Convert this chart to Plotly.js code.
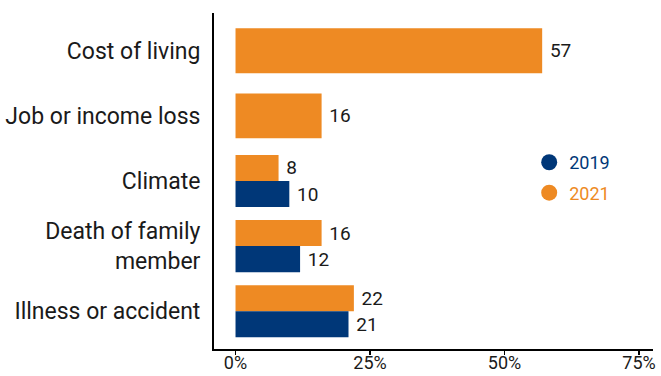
<!DOCTYPE html>
<html>
<head>
<meta charset="utf-8">
<script src="https://cdn.plot.ly/plotly-3.0.1.min.js"></script>
<style>html,body{margin:0;padding:0;background:#fff;}#chart{width:661px;height:376px;}</style>
</head>
<body>
<div id="chart"></div>
<script>
const categories = ['Cost of living', 'Job or income loss', 'Climate', 'Death of family<br>member', 'Illness or accident'];
const values2019 = [null, null, 10, 12, 21];
const values2021 = [57, 16, 8, 16, 22];
const xTickValues = [0, 25, 50, 75];
const xTickLabels = ['0%', '25%', '50%', '75%'];

const ORANGE = '#ee8a23';
const NAVY = '#003778';
const FONT = 'Roboto, "Open Sans", sans-serif';

// bar geometry: rows with only 2021 get a single thick bar, paired rows share the band
const single = values2019.map(v => v === null);
const w2021 = single.map(s => s ? 0.69 : 0.4);
const o2021 = single.map(s => s ? -0.345 : -0.4);
const w2019 = single.map(() => 0.4);
const o2019 = single.map(() => 0);

const barText = {family: FONT, size: 19, color: '#1a1a1a'};

const traces = [
  {
    type: 'bar', orientation: 'h', y: categories, x: values2021,
    width: w2021, offset: o2021,
    marker: {color: ORANGE},
    text: values2021.map(v => v === null ? '' : String(v)),
    texttemplate: '\u00a0%{text}', textposition: 'outside',
    outsidetextfont: barText, constraintext: 'none', cliponaxis: false,
    showlegend: false, hoverinfo: 'skip'
  },
  {
    type: 'bar', orientation: 'h', y: categories, x: values2019,
    width: w2019, offset: o2019,
    marker: {color: NAVY},
    text: values2019.map(v => v === null ? '' : String(v)),
    texttemplate: '\u00a0%{text}', textposition: 'outside',
    outsidetextfont: barText, constraintext: 'none', cliponaxis: false,
    showlegend: false, hoverinfo: 'skip'
  },
  {
    type: 'scatter', mode: 'markers', x: [null], y: [null],
    name: '<span style="color:' + NAVY + '">2019</span>',
    legendgroup: 'a',
    marker: {color: NAVY, size: 17, symbol: 'circle'}
  },
  {
    type: 'scatter', mode: 'markers', x: [null], y: [null],
    name: '<span style="color:' + ORANGE + '">2021</span>',
    legendgroup: 'b',
    marker: {color: ORANGE, size: 17, symbol: 'circle'}
  }
];

const layout = {
  width: 661, height: 376,
  margin: {l: 214, r: 8, t: 13, b: 27, pad: 0},
  paper_bgcolor: '#ffffff', plot_bgcolor: '#ffffff',
  barmode: 'overlay',
  font: {family: FONT, color: '#1a1a1a'},
  xaxis: {
    range: [-4, 77.6],
    tickvals: xTickValues, ticktext: xTickLabels,
    showgrid: false, zeroline: false,
    showline: true, linecolor: '#000', linewidth: 2,
    ticks: 'outside', ticklen: 4, tickwidth: 1.5, tickcolor: '#000',
    ticklabelstandoff: -8,
    tickfont: {family: FONT, size: 18, color: '#1a1a1a'},
    fixedrange: true
  },
  yaxis: {
    type: 'category',
    categoryorder: 'array', categoryarray: categories,
    range: [4.58, -0.58],
    showgrid: false, zeroline: false,
    showline: true, linecolor: '#000', linewidth: 2,
    ticks: '', ticklabelstandoff: 7,
    tickfont: {family: FONT, size: 23, color: '#1a1a1a'},
    fixedrange: true
  },
  showlegend: true,
  legend: {
    x: 0.718, xanchor: 'left', y: 0.61, yanchor: 'top',
    bgcolor: 'rgba(0,0,0,0)',
    font: {family: FONT, size: 18},
    traceorder: 'grouped', tracegroupgap: 4,
    itemclick: false, itemdoubleclick: false
  }
};

Plotly.newPlot('chart', traces, layout, {displayModeBar: false, staticPlot: true});
</script>
</body>
</html>
